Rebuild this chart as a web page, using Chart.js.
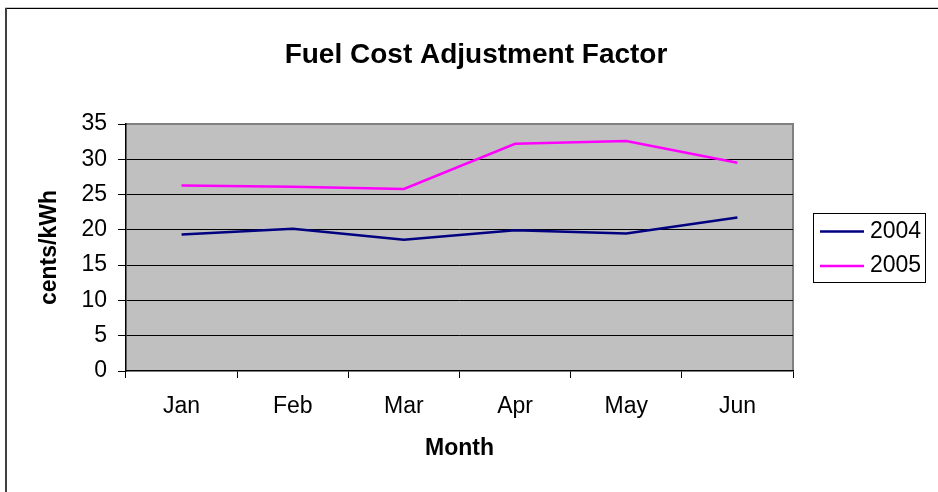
<!DOCTYPE html>
<html><head><meta charset="utf-8">
<script src="https://cdn.jsdelivr.net/npm/chart.js@4"></script>
<style>html,body{margin:0;padding:0;background:#fff;overflow:hidden;} canvas{display:block;}</style>
</head><body>
<canvas id="c" width="938" height="492"></canvas>
<script>
const months = ['Jan', 'Feb', 'Mar', 'Apr', 'May', 'Jun'];
const fca2004 = [19.35, 20.15, 18.6, 19.95, 19.5, 21.75];
const fca2005 = [26.3, 26.1, 25.8, 32.2, 32.6, 29.5];
const seriesNames = ['2004', '2005'];
const yMin = 0, yMax = 35, yStep = 5;

const FONT = '"Liberation Sans", Arial, sans-serif';

const decor = {
  id: 'decor',
  beforeDraw(chart) {
    const {ctx, chartArea: a} = chart;
    ctx.save();
    ctx.fillStyle = '#C0C0C0';
    ctx.fillRect(a.left, a.top, a.right - a.left, a.bottom - a.top);
    ctx.strokeStyle = '#808080';
    ctx.lineWidth = 2;
    ctx.beginPath();
    ctx.moveTo(a.left, a.top); ctx.lineTo(a.right, a.top); ctx.lineTo(a.right, a.bottom);
    ctx.stroke();
    ctx.restore();
  },
  afterDraw(chart) {
    const {ctx} = chart;
    ctx.save();
    // outer frame (top & left visible)
    ctx.fillStyle = '#c8c8c8'; ctx.fillRect(5, 7, 933, 1);
    ctx.fillStyle = '#000'; ctx.fillRect(5, 8, 933, 1);
    ctx.fillStyle = '#404040'; ctx.fillRect(5, 8, 2, 484);
    // legend
    const lx = 813, ly = 213, lw = 112, lh = 69;
    ctx.fillStyle = '#fff'; ctx.fillRect(lx, ly, lw, lh);
    ctx.strokeStyle = '#000'; ctx.lineWidth = 1;
    ctx.strokeRect(lx + 0.5, ly + 0.5, lw, lh);
    ctx.font = '23px ' + FONT;
    ctx.textBaseline = 'middle';
    ctx.textAlign = 'left';
    chart.data.datasets.forEach((ds, i) => {
      const y = ly + 18.5 + i * 34.5;
      ctx.strokeStyle = ds.borderColor; ctx.lineWidth = 2.5;
      ctx.beginPath(); ctx.moveTo(lx + 7, y); ctx.lineTo(lx + 51, y); ctx.stroke();
      ctx.fillStyle = '#000';
      ctx.fillText(ds.label, lx + 57, y);
    });
    ctx.restore();
  }
};

new Chart(document.getElementById('c'), {
  type: 'line',
  data: {
    labels: months,
    datasets: [
      {label: seriesNames[0], data: fca2004, borderColor: '#000080', backgroundColor: '#000080', borderWidth: 2.5, pointRadius: 0, tension: 0, fill: false},
      {label: seriesNames[1], data: fca2005, borderColor: '#FF00FF', backgroundColor: '#FF00FF', borderWidth: 2.5, pointRadius: 0, tension: 0, fill: false}
    ]
  },
  options: {
    responsive: false,
    devicePixelRatio: 1,
    animation: false,
    layout: {padding: {top: 0, left: 14, right: 0, bottom: 29.2}},
    plugins: {
      legend: {display: false},
      tooltip: {enabled: false},
      title: {
        display: true,
        text: 'Fuel Cost Adjustment Factor',
        color: '#000',
        font: {family: FONT, size: 28, weight: 'bold', lineHeight: 1.2},
        padding: {top: 38.5, bottom: 51.9}
      }
    },
    scales: {
      x: {
        type: 'category',
        offset: true,
        grid: {offset: true, drawOnChartArea: false, drawTicks: true, tickLength: 7, tickColor: '#000', tickWidth: 1},
        border: {display: true, color: '#000', width: 1.5},
        ticks: {color: '#000', font: {family: FONT, size: 23}, padding: 15, maxRotation: 0, autoSkip: false},
        title: {display: true, text: 'Month', color: '#000', font: {family: FONT, size: 23, weight: 'bold', lineHeight: 1.2}, padding: {top: 0, bottom: 0}},
        afterFit(s) { s.height = 91.8; }
      },
      y: {
        min: yMin, max: yMax,
        grid: {
          color: (c) => (c.tick && (c.tick.value === yMax || c.tick.value === yMin)) ? 'rgba(0,0,0,0)' : '#000',
          lineWidth: 1, tickLength: 8, tickColor: '#000', drawTicks: true
        },
        border: {display: true, color: '#000', width: 1.5},
        ticks: {stepSize: yStep, color: '#000', font: {family: FONT, size: 23}, padding: 11},
        title: {display: true, text: 'cents/kWh', color: '#000', font: {family: FONT, size: 23, weight: 'bold', lineHeight: 1.2}, padding: {top: 21.5, bottom: 0}},
        afterFit(s) { s.width = 112; }
      },
      legendSpace: {
        type: 'linear',
        position: 'right',
        display: true,
        grid: {display: false, drawTicks: false},
        border: {display: false},
        ticks: {display: false},
        afterFit(s) { s.width = 145; }
      }
    }
  },
  plugins: [decor]
});
</script>
</body></html>
